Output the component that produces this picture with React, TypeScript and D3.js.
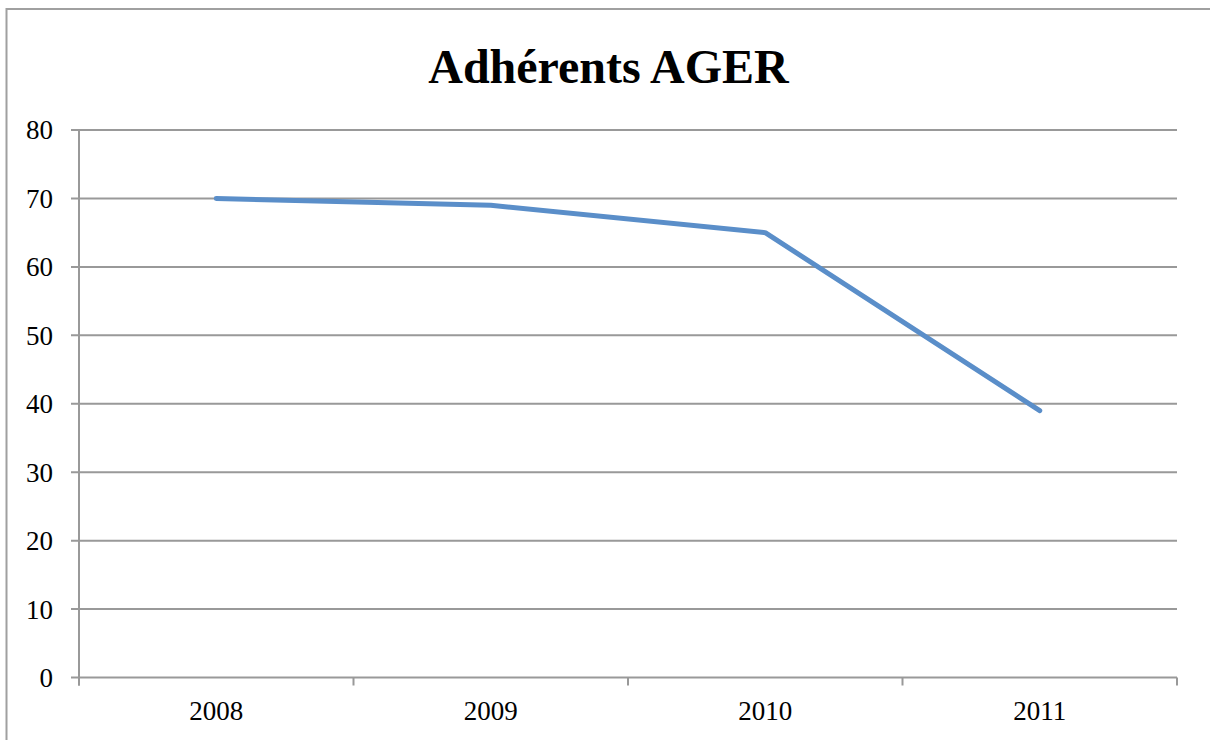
import { useMemo } from "react";
import * as d3 from "d3";

const years = ["2008", "2009", "2010", "2011"];
const members = [70, 69, 65, 39];
const yTicks = [0, 10, 20, 30, 40, 50, 60, 70, 80];
const title = "Adhérents AGER";

const W = 1210;
const H = 740;
const PLOT = { left: 79, right: 1177, top: 130, bottom: 677.5 };
const GRID = "#999999";
const LINE = "#5a8ec9";
const FONT = "'Liberation Serif', 'DejaVu Serif', serif";

export default function App() {
  const x = useMemo(
    () => d3.scaleBand<string>().domain(years).range([PLOT.left, PLOT.right]),
    []
  );
  const y = useMemo(
    () => d3.scaleLinear().domain([0, 80]).range([PLOT.bottom, PLOT.top]),
    []
  );

  const path = d3
    .line<number>()
    .x((_, i) => (x(years[i]) ?? 0) + x.bandwidth() / 2)
    .y((d) => y(d))(members);

  const bounds = [...years.map((yr) => x(yr) ?? 0), PLOT.right];

  return (
    <svg
      width={W}
      height={H}
      style={{ position: "absolute", left: 0, top: 0, background: "#fff" }}
    >
      {/* chart frame, runs off the right and bottom edge */}
      <path d={`M${W + 5},9 H6.5 V${H + 5}`} fill="none" stroke="#a0a0a0" strokeWidth={2} />

      <text
        x={608.5}
        y={83}
        textAnchor="middle"
        fontFamily={FONT}
        fontWeight="bold"
        fontSize={48}
        fill="#000"
      >
        {title}
      </text>

      {/* gridlines + y ticks */}
      {yTicks.map((t) => (
        <g key={t}>
          <line x1={71} x2={PLOT.right} y1={y(t)} y2={y(t)} stroke={GRID} strokeWidth={2} />
          <text
            x={53}
            y={y(t)}
            dy="0.35em"
            textAnchor="end"
            fontFamily={FONT}
            fontSize={27}
            fill="#000"
          >
            {t}
          </text>
        </g>
      ))}

      {/* y axis */}
      <line x1={PLOT.left} x2={PLOT.left} y1={PLOT.top} y2={PLOT.bottom + 8} stroke={GRID} strokeWidth={2} />

      {/* x ticks */}
      {bounds.map((b, i) => (
        <line key={i} x1={b} x2={b} y1={PLOT.bottom} y2={PLOT.bottom + 8} stroke={GRID} strokeWidth={2} />
      ))}

      {years.map((yr) => (
        <text
          key={yr}
          x={(x(yr) ?? 0) + x.bandwidth() / 2}
          y={720}
          textAnchor="middle"
          fontFamily={FONT}
          fontSize={27}
          fill="#000"
        >
          {yr}
        </text>
      ))}

      <path
        d={path ?? ""}
        fill="none"
        stroke={LINE}
        strokeWidth={5}
        strokeLinecap="round"
        strokeLinejoin="round"
      />
    </svg>
  );
}
